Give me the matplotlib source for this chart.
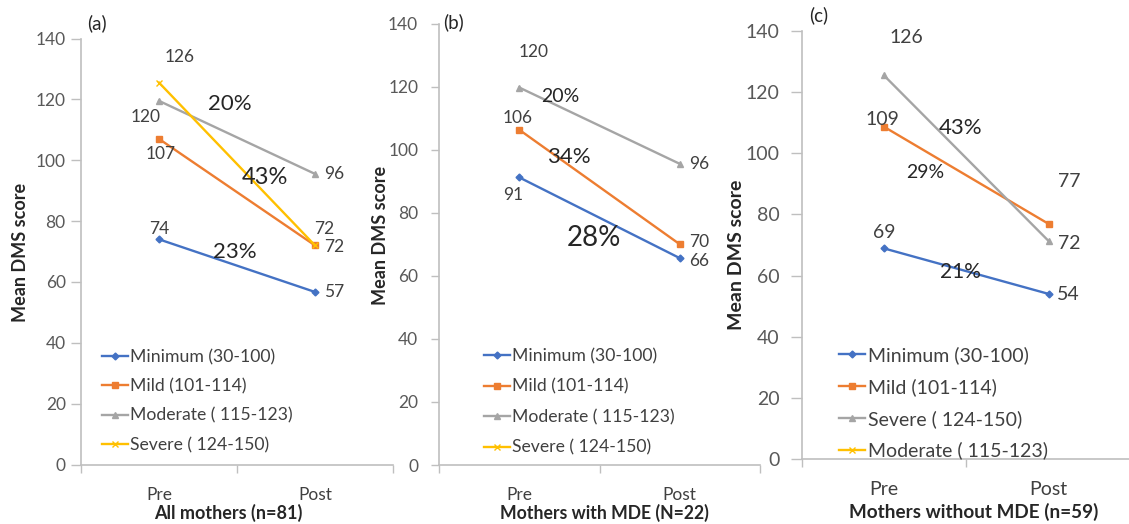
import matplotlib
matplotlib.use("Agg")
import matplotlib.pyplot as plt

plt.rcParams['font.family'] = ['Lato', 'DejaVu Sans']

W, H = 1129, 524

categories = ["Pre", "Post"]

# Panel (a) All mothers
a_minimum = [74.0, 56.7]
a_mild = [107.0, 72.0]
a_moderate = [119.5, 95.5]
a_severe = [125.5, 72.0]
# Panel (b) Mothers with MDE
b_minimum = [91.2, 65.6]
b_mild = [106.3, 70.0]
b_moderate = [119.7, 95.5]
# Panel (c) Mothers without MDE
c_minimum = [68.9, 54.0]
c_mild = [108.7, 76.9]
c_severe = [125.5, 71.3]

yticks = [0, 20, 40, 60, 80, 100, 120, 140]

a_value_labels = ["126", "120", "107", "74", "96", "72", "72", "57"]
a_pct_labels = ["20%", "43%", "23%"]
b_value_labels = ["120", "106", "91", "96", "70", "66"]
b_pct_labels = ["20%", "34%", "28%"]
c_value_labels = ["126", "109", "69", "77", "72", "54"]
c_pct_labels = ["43%", "29%", "21%"]

# layout: label positions (data coords) and sizes
a_value_pos = [(0.135, 133.9), (-0.083, 114.1), (0.013, 102.0), (0.0, 77.3),
               (1.12, 95.4), (1.06, 77.3), (1.12, 71.4), (1.12, 56.6)]
a_pct_pos = [(0.455, 118.4, 16), (0.68, 94.4, 17), (0.487, 70.0, 16)]
b_value_pos = [(0.087, 130.9), (-0.012, 110.0), (-0.037, 85.5),
               (1.12, 95.3), (1.12, 70.6), (1.12, 64.6)]
b_pct_pos = [(0.255, 116.8, 14), (0.307, 97.8, 16), (0.463, 72.0, 20)]
c_value_pos = [(0.137, 137.8), (-0.007, 110.9), (0.0, 74.0),
               (1.124, 90.9), (1.127, 70.5), (1.12, 53.8)]
c_pct_pos = [(0.467, 108.2, 16), (0.25, 93.7, 14), (0.467, 61.2, 15)]

BLUE, ORANGE, GRAY, YELLOW = "#4472C4", "#ED7D31", "#A5A5A5", "#FFC000"
AXC = "#BFBFBF"
TXT = "#404040"
DARK = "#262626"

fig = plt.figure(figsize=(W / 100, H / 100), dpi=100)


def add_ax(l, r, top, bottom):
    return fig.add_axes([l / W, 1 - bottom / H, (r - l) / W, (bottom - top) / H])


def style(ax, fs, ytick_len, ypad):
    ax.set_xlim(-0.5, 1.5)
    ax.set_ylim(0, 140)
    ax.set_yticks(yticks)
    ax.tick_params(axis='y', length=ytick_len, width=1, colors="#595959",
                   labelsize=fs, pad=ypad, direction='out')
    ax.tick_params(axis='y', color=AXC)
    ax.set_xticks([0, 1])
    ax.set_xticklabels(categories)
    ax.set_xticks([-0.5, 0.5, 1.5], minor=True)
    ax.tick_params(axis='x', which='major', length=0, labelsize=fs, colors="#404040", pad=16)
    ax.tick_params(axis='x', which='minor', length=6, width=1, color=AXC, direction='out')
    for s in ['top', 'right']:
        ax.spines[s].set_visible(False)
    for s in ['left', 'bottom']:
        ax.spines[s].set_color(AXC)
        ax.spines[s].set_linewidth(1.2)
    ax.patch.set_visible(False)


def series(ax, vals, color, marker, label, ms):
    x = [0, 1][:len(vals)]
    ax.plot(x, vals, color=color, lw=1.7, marker=marker, ms=ms, mfc=color, mec=color,
            mew=1.0, label=label, clip_on=False)


def legend(ax, x, y, fs, spacing, hl):
    ax.legend(loc='upper left', bbox_to_anchor=(x / W, 1 - y / H), bbox_transform=fig.transFigure,
              frameon=False, fontsize=fs, handlelength=hl, handletextpad=0.12,
              borderpad=0, borderaxespad=0, labelspacing=spacing, labelcolor="#404040")


# ---------- Panel (a)
axa = add_ax(81, 393, 38.5, 464.5)
style(axa, 12.5, 7, 4)
series(axa, a_minimum, BLUE, 'D', "Minimum (30-100)", 3.5)
series(axa, a_mild, ORANGE, 's', "Mild (101-114)", 5)
series(axa, a_moderate, GRAY, '^', "Moderate ( 115-123)", 5)
series(axa, a_severe, YELLOW, 'x', "Severe ( 124-150)", 5)
for t, (x, y) in zip(a_value_labels, a_value_pos):
    axa.text(x, y, t, ha='center', va='center', fontsize=12.5, color=TXT)
for t, (x, y, fs) in zip(a_pct_labels, a_pct_pos):
    axa.text(x, y, t, ha='center', va='center', fontsize=fs, color=DARK)
legend(axa, 102, 349, 12.7, 0.75, 1.48)
fig.text(97 / W, 1 - 23 / H, "(a)", ha='center', va='center', fontsize=13.5, color=DARK)
fig.text(21 / W, 1 - 252 / H, "Mean DMS score", rotation=90, ha='center', va='center',
         fontsize=13, fontweight='bold', color=DARK)
fig.text(228 / W, 1 - 513 / H, "All mothers (n=81)", ha='center', va='center',
         fontsize=13, fontweight='bold', color=DARK)

# ---------- Panel (b)
axb = add_ax(439, 760, 23.5, 465)
style(axb, 12.5, 6, 9)
series(axb, b_minimum, BLUE, 'D', "Minimum (30-100)", 3.5)
series(axb, b_mild, ORANGE, 's', "Mild (101-114)", 5)
series(axb, b_moderate, GRAY, '^', "Moderate ( 115-123)", 5)
series(axb, [], YELLOW, 'x', "Severe ( 124-150)", 5)
for t, (x, y) in zip(b_value_labels, b_value_pos):
    axb.text(x, y, t, ha='center', va='center', fontsize=12.5, color=TXT)
for t, (x, y, fs) in zip(b_pct_labels, b_pct_pos):
    axb.text(x, y, t, ha='center', va='center', fontsize=fs, color=DARK)
legend(axb, 484, 348, 12.7, 0.82, 1.48)
fig.text(454 / W, 1 - 22 / H, "(b)", ha='center', va='center', fontsize=13.5, color=DARK)
fig.text(381 / W, 1 - 235 / H, "Mean DMS score", rotation=90, ha='center', va='center',
         fontsize=13, fontweight='bold', color=DARK)
fig.text(604 / W, 1 - 513 / H, "Mothers with MDE (N=22)", ha='center', va='center',
         fontsize=12.7, fontweight='bold', color=DARK)

# ---------- Panel (c)
axc = add_ax(801.5, 1131, 31, 459)
style(axc, 14, 8, 8)
series(axc, c_minimum, BLUE, 'D', "Minimum (30-100)", 3.5)
series(axc, c_mild, ORANGE, 's', "Mild (101-114)", 5)
series(axc, c_severe, GRAY, '^', "Severe ( 124-150)", 5)
series(axc, [], YELLOW, 'x', "Moderate ( 115-123)", 5)
for t, (x, y) in zip(c_value_labels, c_value_pos):
    axc.text(x, y, t, ha='center', va='center', fontsize=14, color=TXT)
for t, (x, y, fs) in zip(c_pct_labels, c_pct_pos):
    axc.text(x, y, t, ha='center', va='center', fontsize=fs, color=DARK)
legend(axc, 839, 346, 14, 0.72, 1.35)
fig.text(819 / W, 1 - 15 / H, "(c)", ha='center', va='center', fontsize=13.5, color=DARK)
fig.text(737 / W, 1 - 255 / H, "Mean DMS score", rotation=90, ha='center', va='center',
         fontsize=14, fontweight='bold', color=DARK)
fig.text(974 / W, 1 - 512 / H, "Mothers without MDE (n=59)", ha='center', va='center',
         fontsize=13.6, fontweight='bold', color=DARK)

fig.savefig("out.png", dpi=100, facecolor='white')
